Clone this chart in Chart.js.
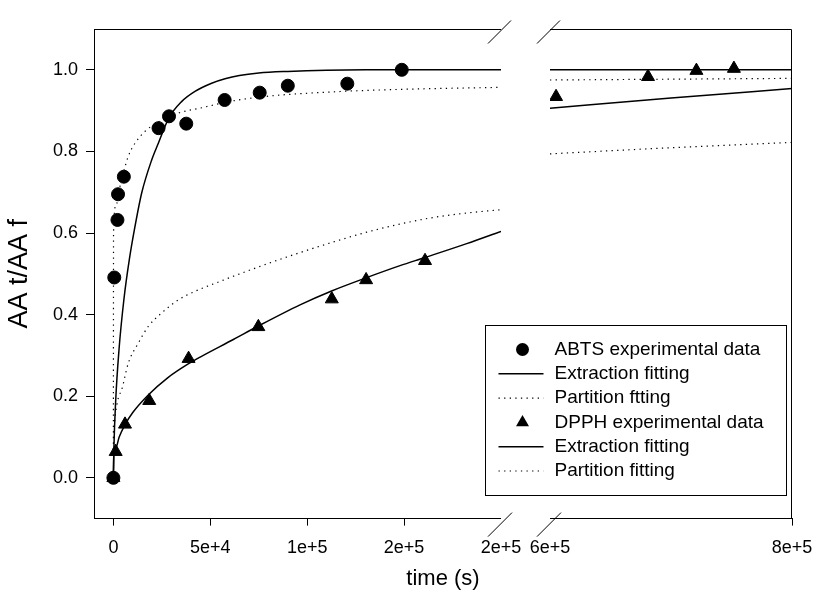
<!DOCTYPE html>
<html>
<head>
<meta charset="utf-8">
<script src="https://cdn.jsdelivr.net/npm/chart.js@4"></script>
<style>
  body { margin: 0; background: #fff; }
  #wrap { width: 815px; height: 593px; }
</style>
</head>
<body>
<div id="wrap"><canvas id="kineticsChart"></canvas></div>
<script>
// ABTS experimental data (time in s, AA t/AA f)
const abtsTime = [0, 460, 2100, 2400, 5400, 23300, 28700, 37600, 57400, 75500, 90000, 120700, 148800];
const abtsValue = [0, 0.491, 0.632, 0.695, 0.738, 0.857, 0.886, 0.868, 0.926, 0.944, 0.961, 0.966, 1.0];

// DPPH experimental data, before and after the axis break
const dpphTimeA = [0, 1190, 6000, 18500, 38800, 74800, 112700, 130400, 160800];
const dpphValueA = [0, 0.064, 0.131, 0.189, 0.292, 0.37, 0.438, 0.485, 0.532];
const dpphTimeB = [605000, 681000, 721000, 752000];
const dpphValueB = [0.934, 0.983, 0.998, 1.003];

// fitted curves
const abtsExtTimeA = [0, 250, 1200, 2900, 5500, 8200, 11150, 14600, 19760, 23200, 28650, 35200, 42100, 50700, 57600, 65000, 75000, 90000, 110000, 130000, 200000];
const abtsExtValueA = [0, 0.07, 0.19, 0.314, 0.44, 0.534, 0.616, 0.698, 0.779, 0.82, 0.882, 0.922, 0.947, 0.967, 0.978, 0.986, 0.992, 0.996, 0.999, 1.0, 1.0];
const abtsExtTimeB = [600000, 800000];
const abtsExtValueB = [1.0, 1.0];

const abtsPartTimeA = [0, 80, 1190, 3400, 5600, 7700, 11150, 16300, 23000, 33500, 44700, 61900, 79100, 113500, 147900, 200000];
const abtsPartValueA = [0.07, 0.6, 0.665, 0.714, 0.755, 0.788, 0.82, 0.849, 0.872, 0.894, 0.906, 0.924, 0.935, 0.946, 0.952, 0.957];
const abtsPartTimeB = [600000, 700000, 800000];
const abtsPartValueB = [0.975, 0.977, 0.979];

const dpphExtTimeA = [0, 250, 1190, 3000, 6000, 10000, 18000, 28000, 38600, 44800, 61900, 74770, 96300, 112600, 130300, 147900, 160800, 182300, 200000];
const dpphExtValueA = [0, 0.062, 0.072, 0.1, 0.13, 0.16, 0.203, 0.245, 0.279, 0.296, 0.339, 0.372, 0.424, 0.458, 0.49, 0.52, 0.54, 0.574, 0.604];
const dpphExtTimeB = [600000, 700000, 800000];
const dpphExtValueB = [0.906, 0.931, 0.954];

const dpphPartTimeA = [0, 400, 1190, 2500, 4280, 7690, 12850, 18000, 24900, 33500, 42100, 55900, 61900, 79100, 96300, 113500, 130700, 147900, 165000, 182300, 200000];
const dpphPartValueA = [0.07, 0.12, 0.16, 0.195, 0.216, 0.281, 0.33, 0.371, 0.404, 0.436, 0.457, 0.483, 0.494, 0.524, 0.552, 0.578, 0.602, 0.622, 0.638, 0.649, 0.657];
const dpphPartTimeB = [600000, 700000, 800000];
const dpphPartValueB = [0.794, 0.809, 0.822];

// axis ticks
const leftTicks = [0, 50000, 100000, 150000, 200000];
const rightTicks = [600000, 800000];
const yTicks = [0, 0.2, 0.4, 0.6, 0.8, 1.0];

const FONT = "'Liberation Sans', Arial, sans-serif";
Chart.defaults.font.family = FONT;
Chart.defaults.color = '#000';

function pairs(ts, vs) {
  return ts.map((t, i) => ({ x: t, y: vs[i] }));
}

function fmtTime(v) {
  return v === 0 ? '0' : v.toExponential(0);
}

const dotted = [1.3, 4.3];

function curve(label, ts, vs, axis, dashed, legendRow) {
  return {
    label: label,
    data: pairs(ts, vs),
    xAxisID: axis,
    showLine: true,
    pointRadius: 0,
    borderColor: '#000',
    borderWidth: dashed ? 1.2 : 1.5,
    borderDash: dashed ? dotted : [],
    cubicInterpolationMode: 'monotone',
    legendRow: legendRow
  };
}

function markers(label, ts, vs, axis, style, radius, legendRow) {
  return {
    label: label,
    data: pairs(ts, vs),
    xAxisID: axis,
    showLine: false,
    pointStyle: style,
    pointRadius: radius,
    pointHoverRadius: radius,
    pointBackgroundColor: '#000',
    pointBorderColor: '#000',
    pointBorderWidth: 1,
    legendRow: legendRow
  };
}

// keep the x axes from pushing the plot area in
function fixX(s) {
  s.height = 47;
  s.paddingLeft = 0;
  s.paddingRight = 0;
}

// frame around the plot with the break marks
const brokenFrame = {
  id: 'brokenFrame',
  afterDraw(chart) {
    const ctx = chart.ctx;
    const a = chart.scales.x1, b = chart.scales.x2;
    const top = Math.round(chart.chartArea.top) + 0.5;
    const bottom = chart.chartArea.bottom;
    const right = Math.round(b.right) - 0.5;
    ctx.save();
    ctx.strokeStyle = '#000';
    ctx.lineWidth = 1;
    ctx.beginPath();
    ctx.moveTo(a.left, top); ctx.lineTo(a.right, top);
    ctx.moveTo(b.left, top); ctx.lineTo(right, top);
    ctx.moveTo(right, top); ctx.lineTo(right, bottom);
    ctx.stroke();
    // slashes
    ctx.beginPath();
    [a.right, b.left].forEach(x => {
      ctx.moveTo(x - 13, top + 14); ctx.lineTo(x + 10, top - 9);
      ctx.moveTo(x - 13, bottom + 18); ctx.lineTo(x + 11, bottom - 6);
    });
    ctx.stroke();
    ctx.restore();
  }
};

// boxed legend inside the plot, lower right
const boxLegend = {
  id: 'boxLegend',
  afterDraw(chart) {
    const ctx = chart.ctx;
    const area = chart.chartArea;
    const w = 301, h = 170;
    const left = Math.round(area.right - 6 - w) + 0.5;
    const top = Math.round(area.bottom - 24 - h) + 0.5;
    const rows = chart.data.datasets.filter(d => d.legendRow !== undefined)
      .sort((p, q) => p.legendRow - q.legendRow);
    ctx.save();
    ctx.fillStyle = '#fff';
    ctx.fillRect(left, top, w, h);
    ctx.strokeStyle = '#000';
    ctx.lineWidth = 1;
    ctx.strokeRect(left, top, w, h);
    ctx.font = '19px ' + FONT;
    ctx.textBaseline = 'middle';
    ctx.textAlign = 'left';
    rows.forEach((d, i) => {
      const y = top + 24 + i * 24.3;
      const cx = left + 37;
      ctx.fillStyle = '#000';
      ctx.strokeStyle = '#000';
      if (d.showLine) {
        ctx.lineWidth = d.borderWidth;
        ctx.setLineDash(d.borderDash);
        ctx.beginPath();
        ctx.moveTo(left + 13, y); ctx.lineTo(left + 58, y);
        ctx.stroke();
        ctx.setLineDash([]);
      } else {
        const r = d.pointRadius;
        ctx.beginPath();
        if (d.pointStyle === 'circle') {
          ctx.arc(cx, y, r, 0, Math.PI * 2);
        } else {
          ctx.moveTo(cx, y - r);
          ctx.lineTo(cx + Math.sin(2 * Math.PI / 3) * r, y + r / 2);
          ctx.lineTo(cx - Math.sin(2 * Math.PI / 3) * r, y + r / 2);
          ctx.closePath();
        }
        ctx.fill();
      }
      ctx.fillText(d.label, left + 69, y);
    });
    ctx.restore();
  }
};

const ctx = document.getElementById('kineticsChart').getContext('2d');
const kineticsChart = new Chart(ctx, {
  type: 'scatter',
  data: {
    datasets: [
      markers('ABTS experimental data', abtsTime, abtsValue, 'x1', 'circle', 6.5, 0),
      markers('DPPH experimental data', dpphTimeA, dpphValueA, 'x1', 'triangle', 7.5, 3),
      markers('DPPH experimental data', dpphTimeB, dpphValueB, 'x2', 'triangle', 7.5),
      curve('Extraction fitting', abtsExtTimeA, abtsExtValueA, 'x1', false, 1),
      curve('Extraction fitting', abtsExtTimeB, abtsExtValueB, 'x2', false),
      curve('Partition ftting', abtsPartTimeA, abtsPartValueA, 'x1', true, 2),
      curve('Partition ftting', abtsPartTimeB, abtsPartValueB, 'x2', true),
      curve('Extraction fitting', dpphExtTimeA, dpphExtValueA, 'x1', false, 4),
      curve('Extraction fitting', dpphExtTimeB, dpphExtValueB, 'x2', false),
      curve('Partition fitting', dpphPartTimeA, dpphPartValueA, 'x1', true, 5),
      curve('Partition fitting', dpphPartTimeB, dpphPartValueB, 'x2', true)
    ]
  },
  options: {
    responsive: true,
    maintainAspectRatio: false,
    animation: false,
    layout: { padding: { left: 0, top: 29, right: 23, bottom: 1 } },
    plugins: {
      legend: { display: false },
      tooltip: { enabled: false },
      title: {
        display: true,
        position: 'bottom',
        fullSize: false,
        text: 'time (s)',
        color: '#000',
        font: { size: 22, weight: 'normal' },
        padding: { top: 0, bottom: 0 }
      }
    },
    scales: {
      x1: {
        type: 'linear',
        position: 'bottom',
        stack: 'x',
        stackWeight: 407,
        min: -10000,
        max: 200000,
        afterBuildTicks: s => { s.ticks = leftTicks.map(v => ({ value: v })); },
        afterFit: fixX,
        ticks: { autoSkip: false, maxRotation: 0, padding: 12, font: { size: 18 }, color: '#000', callback: fmtTime },
        grid: {
          drawOnChartArea: false,
          tickLength: 7,
          tickColor: c => (c.index === leftTicks.length - 1 ? 'rgba(0,0,0,0)' : '#000')
        },
        border: { color: '#000', width: 1 }
      },
      xgap: {
        type: 'linear',
        position: 'bottom',
        stack: 'x',
        stackWeight: 49,
        min: 0,
        max: 1,
        afterFit: fixX,
        ticks: { display: false },
        grid: { display: false },
        border: { display: false }
      },
      x2: {
        type: 'linear',
        position: 'bottom',
        stack: 'x',
        stackWeight: 242,
        min: 600000,
        max: 800000,
        afterBuildTicks: s => { s.ticks = rightTicks.map(v => ({ value: v })); },
        afterFit: fixX,
        ticks: { autoSkip: false, maxRotation: 0, padding: 12, font: { size: 18 }, color: '#000', callback: fmtTime },
        grid: {
          drawOnChartArea: false,
          tickLength: 7,
          tickColor: c => (c.index === 0 ? 'rgba(0,0,0,0)' : '#000')
        },
        border: { color: '#000', width: 1 }
      },
      y: {
        type: 'linear',
        min: -0.1,
        max: 1.1,
        afterBuildTicks: s => { s.ticks = yTicks.map(v => ({ value: v })); },
        afterFit: s => { s.width = 94; },
        ticks: { padding: 8, font: { size: 18 }, color: '#000', callback: v => v.toFixed(1) },
        grid: { drawOnChartArea: false, tickLength: 8, tickColor: '#000' },
        border: { color: '#000', width: 1 },
        title: {
          display: true,
          text: 'AA t/AA f',
          color: '#000',
          font: { size: 27 },
          padding: { top: 3, bottom: 0 }
        }
      }
    }
  },
  plugins: [brokenFrame, boxLegend]
});
</script>
</body>
</html>
